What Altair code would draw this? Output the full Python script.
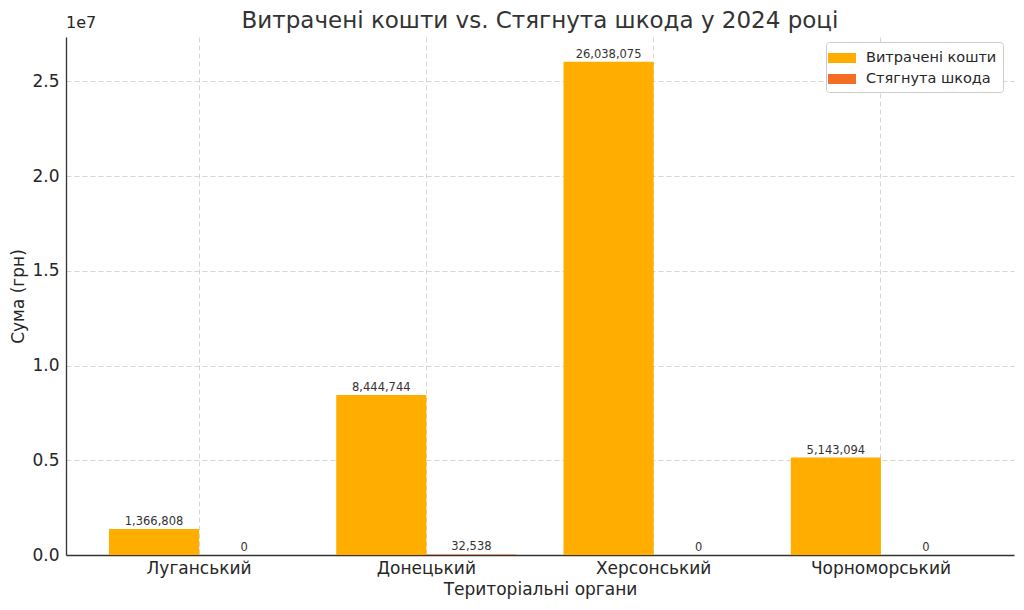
import altair as alt
import pandas as pd

categories = ["Луганський", "Донецький", "Херсонський", "Чорноморський"]
spent = [1366808, 8444744, 26038075, 5143094]
recovered = [0, 32538, 0, 0]
series_names = ["Витрачені кошти", "Стягнута шкода"]
series_colors = ["#FFAE00", "#F46D25"]
y_ticks = [0, 5000000, 10000000, 15000000, 20000000, 25000000]
title_text = "Витрачені кошти vs. Стягнута шкода у 2024 році"

rows = []
for c, s, r in zip(categories, spent, recovered):
    rows.append({"cat": c, "series": series_names[0], "value": s})
    rows.append({"cat": c, "series": series_names[1], "value": r})
df = pd.DataFrame(rows)

FONT = "DejaVu Sans"
TXT = "#262626"

x_enc = alt.X(
    "cat:N",
    sort=categories,
    scale=alt.Scale(paddingInner=0.207, paddingOuter=0.189),
    axis=alt.Axis(
        title="Територіальні органи",
        labelAngle=0,
        bandPosition=0.5,
        grid=True,
        gridDash=[5, 3],
        gridColor="#cccccc",
        gridWidth=0.8,
        ticks=False,
        labelPadding=5,
        labelFontSize=17,
        titleFontSize=17,
        titlePadding=5,
        labelColor=TXT,
        titleColor=TXT,
        titleFontWeight="normal",
        domainColor="#333333",
        domainWidth=1.3,
        labelFont=FONT,
        titleFont=FONT,
    ),
)
xoff = alt.XOffset("series:N", sort=series_names)
y_enc = alt.Y(
    "value:Q",
    scale=alt.Scale(domain=[0, 27340000], nice=False, zero=True),
    axis=alt.Axis(
        title="Сума (грн)",
        values=y_ticks,
        labelExpr="format(datum.value / 10000000, '.1f')",
        grid=True,
        gridDash=[5, 3],
        gridColor="#cccccc",
        gridWidth=0.8,
        ticks=False,
        labelPadding=7,
        labelFontSize=17,
        titleFontSize=17,
        titleX=-48,
        titleY=259,
        titleAngle=270,
        titleAlign="center",
        titleBaseline="middle",
        labelColor=TXT,
        titleColor=TXT,
        titleFontWeight="normal",
        domainColor="#333333",
        domainWidth=1.3,
        labelFont=FONT,
        titleFont=FONT,
    ),
)

bars = alt.Chart(df).mark_bar().encode(
    x=x_enc,
    xOffset=xoff,
    y=y_enc,
    color=alt.Color(
        "series:N",
        sort=series_names,
        scale=alt.Scale(domain=series_names, range=series_colors),
        legend=alt.Legend(
            title=None,
            orient="none",
            legendX=760,
            legendY=5,
            symbolType="M-1.4,-0.5H1.4V0.5H-1.4Z",
            symbolSize=400,
            symbolStrokeWidth=0,
            labelFontSize=14.5,
            labelFont=FONT,
            labelColor=TXT,
            fillColor="white",
            strokeColor="#cccccc",
            cornerRadius=3,
            padding=6,
            rowPadding=4,
            labelOffset=14,
        ),
    ),
)

labels = alt.Chart(df).mark_text(
    baseline="bottom", dy=-2, fontSize=11.5, font=FONT, color="#333333"
).encode(
    x=alt.X("cat:N", sort=categories),
    xOffset=xoff,
    y=alt.Y("value:Q"),
    text=alt.Text("value:Q", format=",d"),
)

exp_df = pd.DataFrame({"t": ["1e7"]})
exp_text = alt.Chart(exp_df).mark_text(
    align="left", baseline="bottom", fontSize=16, font=FONT, color=TXT
).encode(x=alt.value(0), y=alt.value(-6), text="t:N")

title_df = pd.DataFrame({"t": [title_text]})
title_mark = alt.Chart(title_df).mark_text(
    align="center", baseline="alphabetic", fontSize=23, font=FONT, color="#333333"
).encode(x=alt.value(474), y=alt.value(-9), text="t:N")

chart = (
    alt.layer(bars, labels, exp_text, title_mark)
    .properties(
        width=948,
        height=518,
        padding={"left": 58, "top": 29, "right": 2, "bottom": 45},
        autosize=alt.AutoSizeParams(type="none"),
    )
    .configure_view(stroke=None)
)

chart.save("out.html", embed_options={"renderer": "svg", "actions": False})
